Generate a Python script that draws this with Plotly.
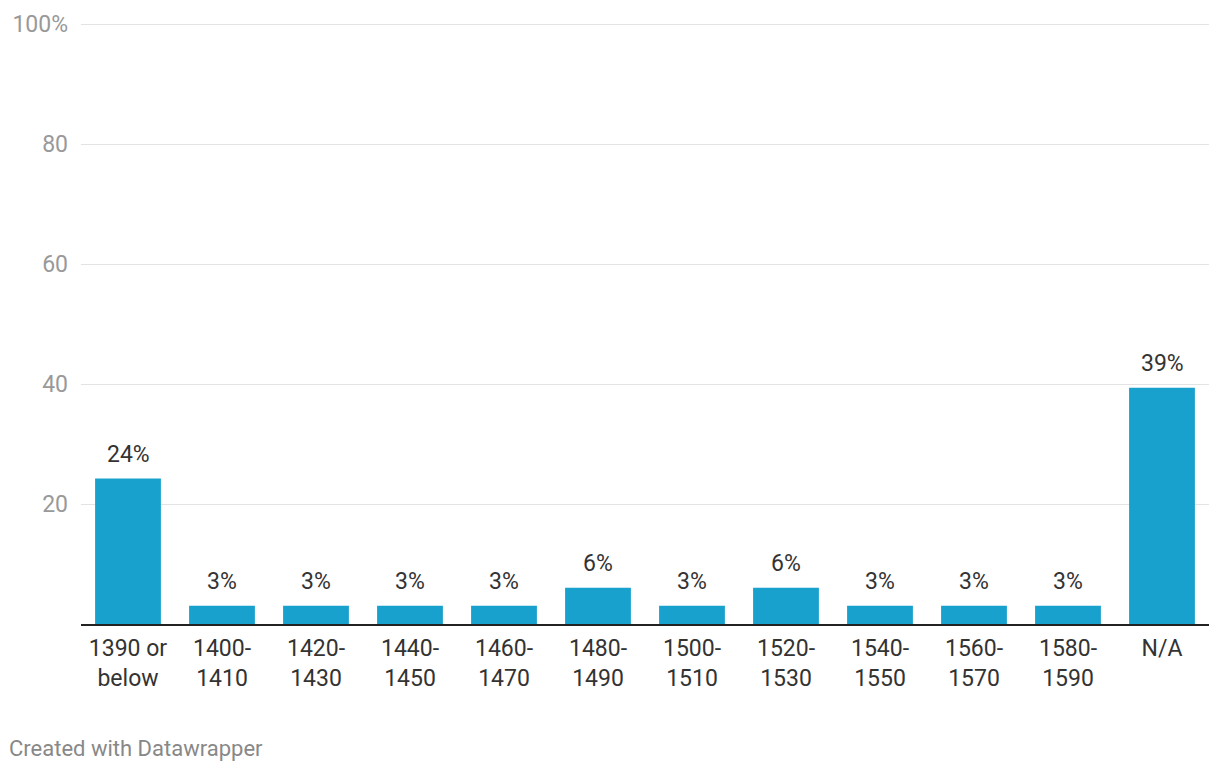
import plotly.graph_objects as go

categories = ["1390 or<br>below", "1400-<br>1410", "1420-<br>1430", "1440-<br>1450", "1460-<br>1470",
              "1480-<br>1490", "1500-<br>1510", "1520-<br>1530", "1540-<br>1550", "1560-<br>1570",
              "1580-<br>1590", "N/A"]
values = [24.24, 3.03, 3.03, 3.03, 3.03, 6.06, 3.03, 6.06, 3.03, 3.03, 3.03, 39.39]
labels = ["24%", "3%", "3%", "3%", "3%", "6%", "3%", "6%", "3%", "3%", "3%", "39%"]
y_tickvals = [20, 40, 60, 80, 100]
y_ticktext = ["20", "40", "60", "80", "100%"]

fig = go.Figure()
fig.add_trace(go.Bar(x=categories, y=values, marker=dict(color="#18a1cd", line=dict(width=0)),
                     hoverinfo="skip"))

for c, v, t in zip(categories, values, labels):
    fig.add_annotation(x=c, y=v, text=t, showarrow=False, yanchor="bottom", yshift=9,
                       font=dict(family="Roboto", size=23, color="#333333"))

fig.add_annotation(x=0, y=0, xref="paper", yref="paper", xanchor="left", yanchor="middle",
                   text="Created with Datawrapper", showarrow=False,
                   font=dict(family="Roboto", size=22, color="#888888"),
                   xshift=-74, yshift=-124)

fig.update_layout(
    width=1212, height=764,
    margin=dict(l=73, r=11, t=13, b=148, autoexpand=False),
    paper_bgcolor="white", plot_bgcolor="white",
    bargap=0.3, showlegend=False,
    font=dict(family="Roboto", size=23, color="#333333"),
    xaxis=dict(showgrid=False, showline=True, linecolor="#222222", linewidth=2,
               tickfont=dict(family="Roboto", size=23, color="#333333"), ticks="",
               ticklabelstandoff=2, automargin=False, fixedrange=True),
    yaxis=dict(range=[0, 100.5], tickvals=y_tickvals, ticktext=y_ticktext,
               showgrid=True, gridcolor="#e3e3e3", gridwidth=1, zeroline=False,
               tickfont=dict(family="Roboto", size=23, color="#999999"), ticks="",
               ticklabelstandoff=12, automargin=False, fixedrange=True),
)

fig.write_html("out.html")
